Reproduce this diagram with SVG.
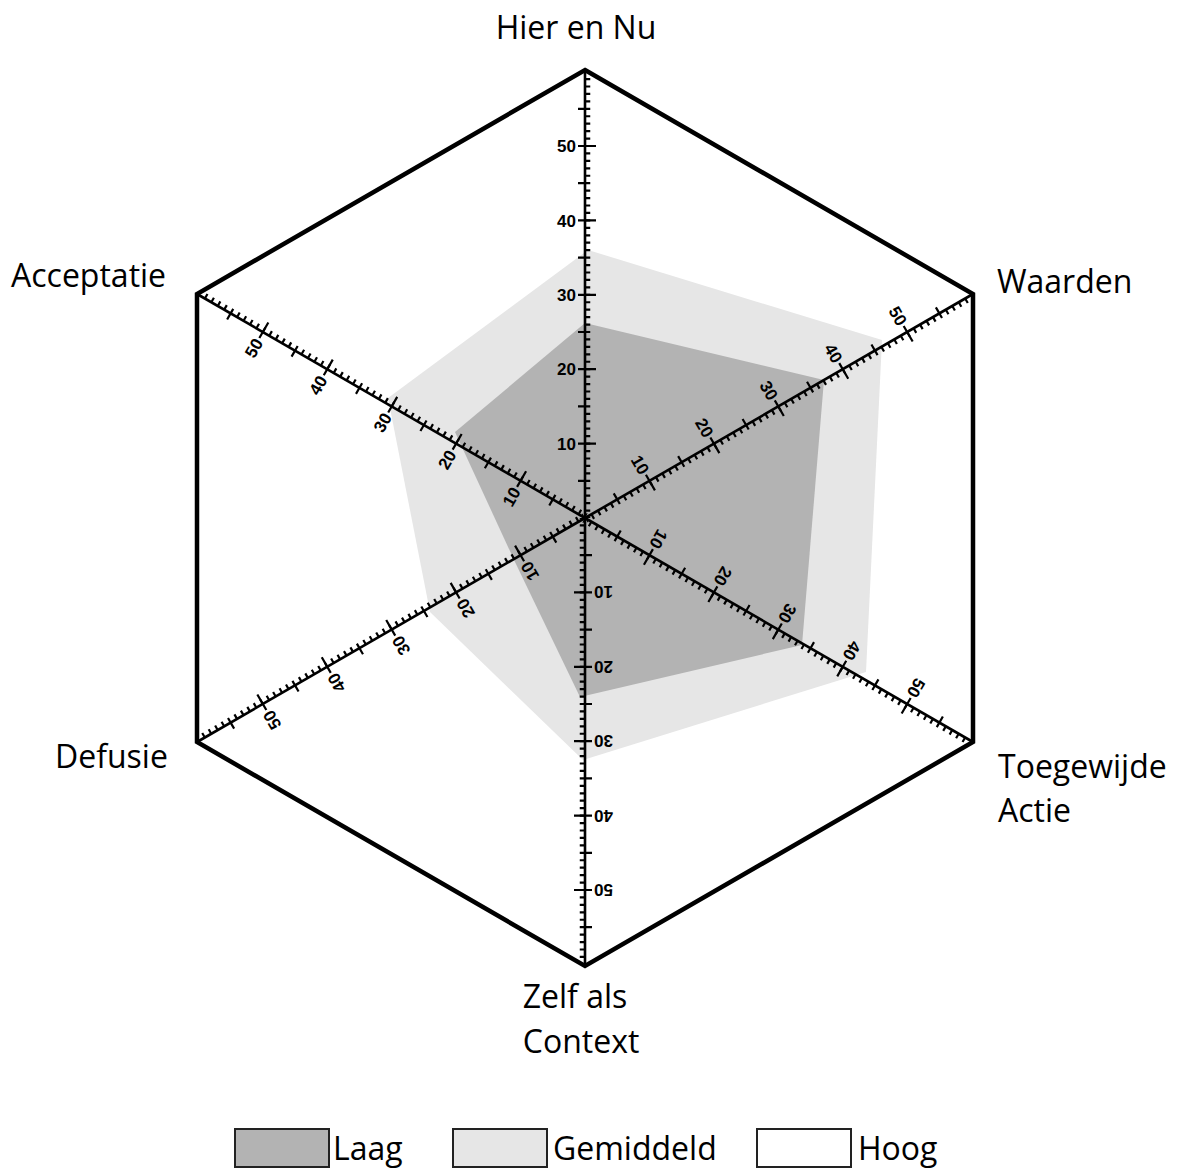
<svg xmlns="http://www.w3.org/2000/svg" width="1183" height="1170" viewBox="0 0 1183 1170">
<style>
.lbl{font-family:"Open Sans","Liberation Sans",sans-serif;font-size:32px;fill:#000}
.tk{font-family:"Liberation Sans",Arial,sans-serif;font-size:17px;font-weight:bold;fill:#000;text-anchor:end}
.tick{stroke:#000;stroke-width:2.2;fill:none}
.box{stroke:#222;stroke-width:2}
</style>
<defs>
<g id="axis">
<line x1="0" y1="0" x2="0" y2="-447" stroke="#000" stroke-width="2.6"/>
<line x1="2.5" y1="0" x2="2.5" y2="-447" stroke="#000" stroke-width="5.5" stroke-dasharray="2.2 5.24" stroke-dashoffset="1.1"/>
<path class="tick" d="M-7 -37.2H0M-7 -111.6H0M-7 -186H0M-7 -260.4H0M-7 -334.8H0M-7 -409.2H0"/>
<path class="tick" d="M-7 -74.4H11M-7 -148.8H11M-7 -223.2H11M-7 -297.6H11M-7 -372H11"/>
<text class="tk" x="-9" y="-68.3">10</text>
<text class="tk" x="-9" y="-142.7">20</text>
<text class="tk" x="-9" y="-217.1">30</text>
<text class="tk" x="-9" y="-291.5">40</text>
<text class="tk" x="-9" y="-365.9">50</text>
</g>
</defs>
<rect width="1183" height="1170" fill="#fff"/>
<g id="gemiddeld">
<polygon points="588,250 882,340 866,672 583,760 430,612 388,398" fill="#e6e6e6"/>
</g>
<g id="laag">
<polygon points="585,323 824,380 802,645 580,697 515,562 455,432" fill="#b3b3b3"/>
</g>
<g id="axes">
<use href="#axis" transform="translate(585 518)"/>
<use href="#axis" transform="translate(585 518) rotate(60)"/>
<use href="#axis" transform="translate(585 518) rotate(120)"/>
<use href="#axis" transform="translate(585 518) rotate(180)"/>
<use href="#axis" transform="translate(585 518) rotate(240)"/>
<use href="#axis" transform="translate(585 518) rotate(300)"/>
</g>
<g id="hexagon">
<polygon points="585,70 973,294 973,742 585,966 197,742 197,294" fill="none" stroke="#000" stroke-width="4.5" stroke-linejoin="miter"/>
</g>
<g id="labels">
<text class="lbl" x="576" y="39" text-anchor="middle">Hier en Nu</text>
<text class="lbl" x="997" y="293">Waarden</text>
<text class="lbl" x="11" y="287">Acceptatie</text>
<text class="lbl" x="998" y="778">Toegewijde</text>
<text class="lbl" x="998" y="822">Actie</text>
<text class="lbl" x="55" y="768">Defusie</text>
<text class="lbl" x="575" y="1008" text-anchor="middle">Zelf als</text>
<text class="lbl" x="581" y="1053" text-anchor="middle">Context</text>
</g>
<g id="legend">
<rect class="box" x="235" y="1129" width="94" height="38" fill="#b3b3b3"/>
<text class="lbl" x="333" y="1160">Laag</text>
<rect class="box" x="453" y="1129" width="94" height="38" fill="#e6e6e6"/>
<text class="lbl" x="553" y="1160">Gemiddeld</text>
<rect class="box" x="757" y="1129" width="94" height="38" fill="#fff"/>
<text class="lbl" x="858" y="1160">Hoog</text>
</g>
</svg>
